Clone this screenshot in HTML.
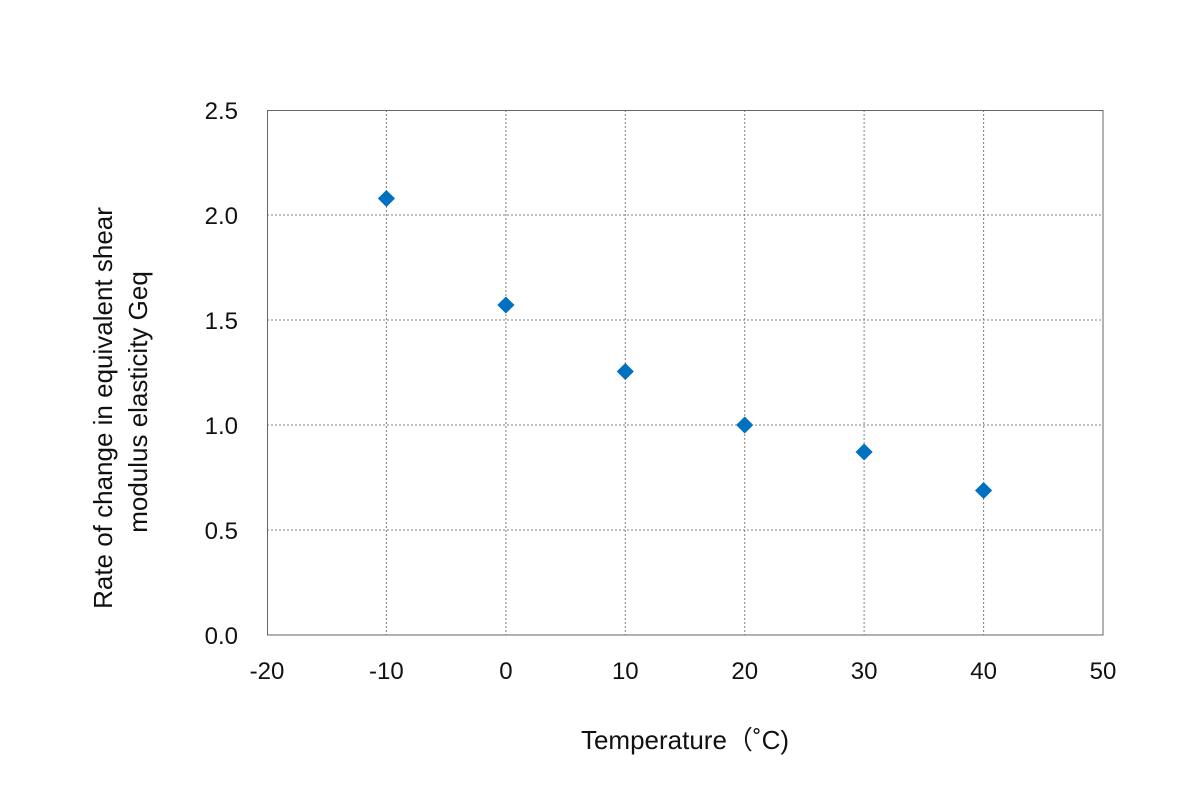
<!DOCTYPE html>
<html><head><meta charset="utf-8"><style>
html,body{margin:0;padding:0;background:#fff;}
svg{display:block;font-family:"Liberation Sans",sans-serif;}
</style></head><body>
<svg width="1200" height="800" viewBox="0 0 1200 800" xmlns="http://www.w3.org/2000/svg">
<rect width="1200" height="800" fill="#fff"/>
<g stroke="#808080" stroke-width="1" stroke-dasharray="2,2">
<line x1="386.4" y1="110" x2="386.4" y2="635"/>
<line x1="505.9" y1="110" x2="505.9" y2="635"/>
<line x1="625.3" y1="110" x2="625.3" y2="635"/>
<line x1="744.7" y1="110" x2="744.7" y2="635"/>
<line x1="864.1" y1="110" x2="864.1" y2="635"/>
<line x1="983.6" y1="110" x2="983.6" y2="635"/>
<line x1="267" y1="215" x2="1103" y2="215"/>
<line x1="267" y1="320" x2="1103" y2="320"/>
<line x1="267" y1="425" x2="1103" y2="425"/>
<line x1="267" y1="530" x2="1103" y2="530"/>
</g>
<rect x="267.5" y="110.5" width="835.5" height="524.5" fill="none" stroke="#666" stroke-width="1"/>
<g font-size="24" fill="#111" text-anchor="end">
<text x="238" y="119">2.5</text>
<text x="238" y="224">2.0</text>
<text x="238" y="329">1.5</text>
<text x="238" y="434">1.0</text>
<text x="238" y="539">0.5</text>
<text x="238" y="644">0.0</text>
</g>
<g font-size="24" fill="#111" text-anchor="middle">
<text x="267" y="679">-20</text>
<text x="386.4" y="679">-10</text>
<text x="505.9" y="679">0</text>
<text x="625.3" y="679">10</text>
<text x="744.7" y="679">20</text>
<text x="864.1" y="679">30</text>
<text x="983.6" y="679">40</text>
<text x="1103" y="679">50</text>
<text x="685" y="749" font-size="26">Temperature（˚C)</text>
</g>
<g font-size="26" fill="#111" text-anchor="middle">
<text transform="translate(112,408) rotate(-90)">Rate of change in equivalent shear</text>
<text transform="translate(147,402) rotate(-90)">modulus elasticity  Geq</text>
</g>
<g fill="#0070c0">
<polygon points="386.4,190 395,198.5 386.4,207 377.8,198.5"/>
<polygon points="505.9,296.5 514.5,305 505.9,313.5 497.3,305"/>
<polygon points="625.3,363 633.9,371.5 625.3,380 616.7,371.5"/>
<polygon points="744.7,416.5 753.3,425 744.7,433.5 736.1,425"/>
<polygon points="864.1,443.5 872.7,452 864.1,460.5 855.5,452"/>
<polygon points="983.6,482 992.2,490.5 983.6,499 975,490.5"/>
</g>
</svg>
</body></html>
